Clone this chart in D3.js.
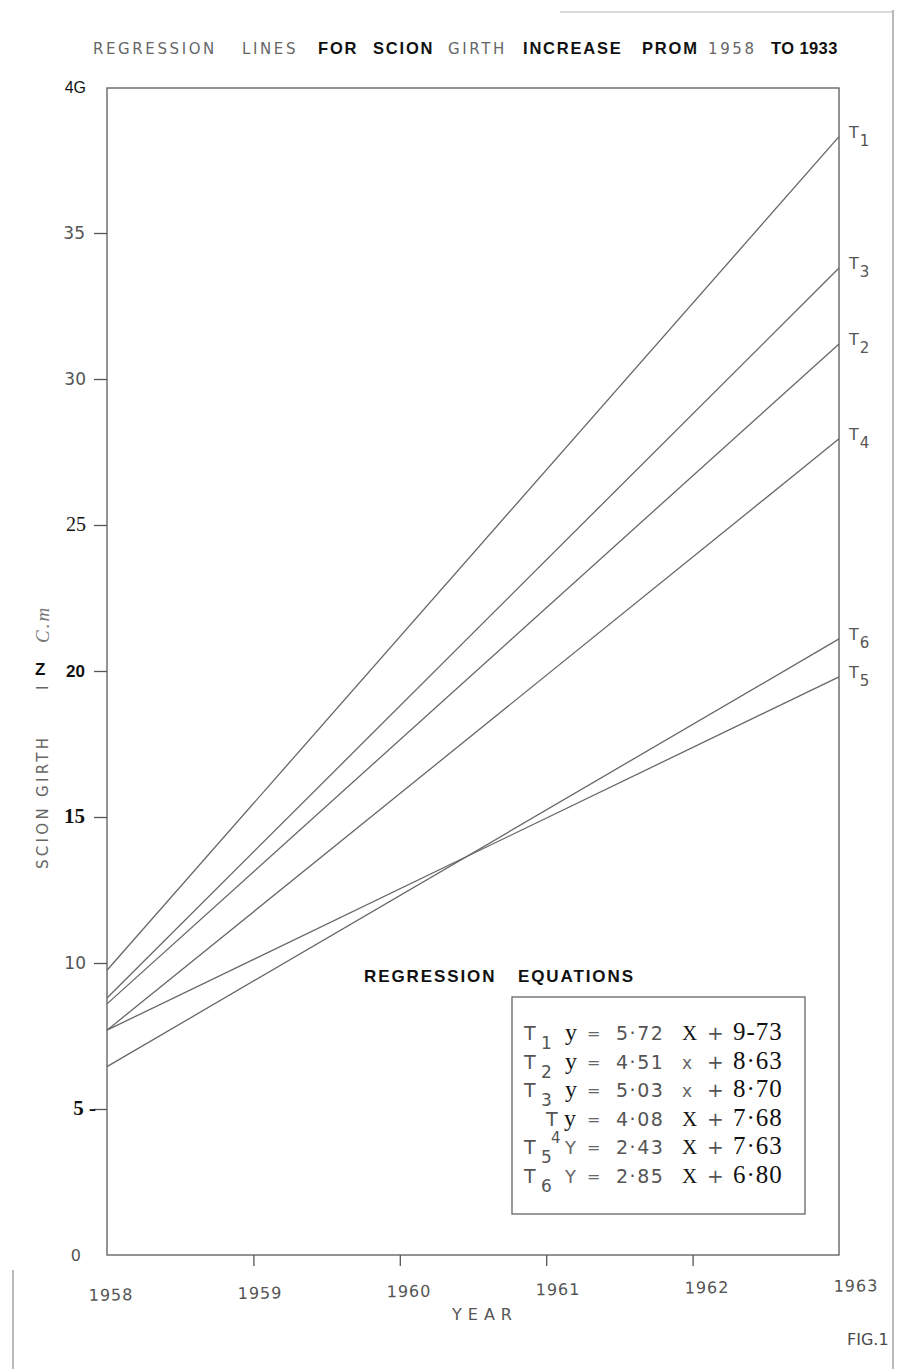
<!DOCTYPE html>
<html>
<head>
<meta charset="utf-8">
<script src="https://cdn.jsdelivr.net/npm/d3@7/dist/d3.min.js"></script>
<style>
  html, body { margin: 0; padding: 0; background: #fff; }
  svg { display: block; }
</style>
</head>
<body>
<svg id="chart" width="899" height="1369"></svg>
<script>
// ---------------- data ----------------
const years = [1958, 1959, 1960, 1961, 1962, 1963];
const treatments = ["T1", "T2", "T3", "T4", "T5", "T6"];
const girthStart = [9.75, 8.6, 8.8, 7.7, 7.7, 6.45];   // scion girth at 1958 (cm)
const girthEnd = [38.3, 31.2, 33.8, 27.95, 19.8, 21.1]; // scion girth at 1963 (cm)
const slopeLabels = ["5·72", "4·51", "5·03", "4·08", "2·43", "2·85"];
const interceptLabels = ["9-73", "8·63", "8·70", "7·68", "7·63", "6·80"];
const yTicks = [0, 5, 10, 15, 20, 25, 30, 35, 40];
const yTickLabels = ["0", "5 -", "10", "15", "20", "25", "30", "35", "4G"];
const xTickLabels = ["1958", "1959", "1960", "1961", "1962", "1963"];

// ---------------- setup ----------------
const svg = d3.select("#chart");
const hand = "'DejaVu Sans', sans-serif";
const bold = "'Liberation Sans', Arial, sans-serif";
const serif = "'Liberation Serif', 'Times New Roman', serif";

const x = d3.scaleLinear().domain([1958, 1963]).range([107, 839]);
const y = d3.scaleLinear().domain([0, 40]).range([1255, 87]);

// page border
const border = svg.append("g").attr("stroke", "#8a8a8a").attr("stroke-width", 1.2).attr("fill", "none");
border.append("line").attr("x1", 893).attr("x2", 893).attr("y1", 10).attr("y2", 1369);
border.append("line").attr("x1", 560).attr("x2", 893).attr("y1", 12).attr("y2", 12).attr("stroke", "#b5b5b5");
border.append("line").attr("x1", 13).attr("x2", 13).attr("y1", 1270).attr("y2", 1369);

// title
const title = svg.append("text").attr("y", 54);
const titleParts = [
  { t: "REGRESSION", x: 93, s: "hand" },
  { t: "LINES", x: 242, s: "hand" },
  { t: "FOR", x: 318, s: "bold" },
  { t: "SCION", x: 373, s: "bold" },
  { t: "GIRTH", x: 448, s: "hand" },
  { t: "INCREASE", x: 523, s: "bold" },
  { t: "PROM", x: 642, s: "bold" },
  { t: "1958", x: 708, s: "hand" },
  { t: "TO 1933", x: 771, s: "bold" }
];
titleParts.forEach(p => {
  const ts = title.append("tspan").attr("x", p.x).text(p.t);
  if (p.s === "hand") {
    ts.attr("font-family", hand).attr("fill", "#666").attr("font-size", 15).attr("letter-spacing", 2.6);
  } else {
    ts.attr("font-family", bold).attr("font-weight", "bold").attr("fill", "#111").attr("font-size", 16.5)
      .attr("letter-spacing", p.t === "TO 1933" ? 0.4 : 1.8);
  }
});

// frame
svg.append("rect")
  .attr("x", x(1958)).attr("y", y(40) + 1)
  .attr("width", x(1963) - x(1958)).attr("height", y(0) - y(40) - 1)
  .attr("fill", "none").attr("stroke", "#666").attr("stroke-width", 1.4);

// y axis ticks
const yAxis = d3.axisLeft(y).tickValues(yTicks.filter(v => v > 0 && v < 40)).tickSize(13).tickFormat("");
const yg = svg.append("g").attr("transform", `translate(${x(1958)},0)`).call(yAxis);
yg.select(".domain").remove();
yg.selectAll(".tick line").attr("stroke", "#555").attr("stroke-width", 1.3);

// y tick labels (mixed lettering as in the original)
const yLabelStyle = {
  "0": { f: hand, w: "normal", c: "#555", s: 16, x: 81 },
  "5 -": { f: serif, w: "bold", c: "#111", s: 21, x: 96 },
  "10": { f: hand, w: "normal", c: "#555", s: 17, x: 86 },
  "15": { f: serif, w: "bold", c: "#111", s: 21, x: 85 },
  "20": { f: bold, w: "bold", c: "#111", s: 17, x: 85 },
  "25": { f: serif, w: "normal", c: "#111", s: 20, x: 86 },
  "30": { f: hand, w: "normal", c: "#555", s: 17, x: 86 },
  "35": { f: hand, w: "normal", c: "#555", s: 17, x: 85 },
  "4G": { f: bold, w: "normal", c: "#111", s: 16, x: 86 }
};
svg.append("g").selectAll("text").data(yTicks).join("text")
  .attr("text-anchor", "end")
  .each(function (d, i) {
    const st = yLabelStyle[yTickLabels[i]];
    d3.select(this).attr("x", st.x).attr("y", y(d) + 6)
      .attr("font-family", st.f).attr("font-weight", st.w)
      .attr("fill", st.c).attr("font-size", st.s).text(yTickLabels[i]);
  });

// y title
svg.append("text")
  .attr("transform", `translate(48,869) rotate(-90)`)
  .attr("font-family", hand).attr("font-size", 15).attr("fill", "#666")
  .attr("letter-spacing", 3.3)
  .text("SCION GIRTH");
svg.append("text")
  .attr("transform", `translate(48,690) rotate(-90)`)
  .attr("font-family", hand).attr("font-size", 15).attr("fill", "#666")
  .text("I");
svg.append("text")
  .attr("x", 35).attr("y", 675)
  .attr("font-family", bold).attr("font-weight", "bold").attr("font-size", 17).attr("fill", "#111")
  .text("Z");
svg.append("text")
  .attr("transform", `translate(49,643) rotate(-90)`)
  .attr("font-family", serif).attr("font-style", "italic").attr("font-size", 19).attr("fill", "#777")
  .attr("letter-spacing", 2)
  .text("C.m");

// x axis ticks
const xAxis = d3.axisBottom(x).tickValues(years.slice(1, 5)).tickSize(11).tickFormat("");
const xg = svg.append("g").attr("transform", `translate(0,${y(0)})`).call(xAxis);
xg.select(".domain").remove();
xg.selectAll(".tick line").attr("stroke", "#555").attr("stroke-width", 1.3);

// x tick labels (hand lettered, slightly tilted baseline)
svg.append("g")
  .attr("transform", "rotate(-0.7, 480, 1290)")
  .selectAll("text").data(years).join("text")
  .attr("x", (d, i) => x(d) + 4 + i * 2.6)
  .attr("y", 1296)
  .attr("text-anchor", "middle")
  .attr("font-family", hand).attr("font-size", 16).attr("fill", "#555")
  .attr("letter-spacing", 1)
  .text((d, i) => xTickLabels[i]);

svg.append("text").attr("x", 485).attr("y", 1320).attr("text-anchor", "middle")
  .attr("font-family", hand).attr("font-size", 16).attr("fill", "#555").attr("letter-spacing", 6)
  .text("YEAR");

svg.append("text").attr("x", 847).attr("y", 1345)
  .attr("font-family", hand).attr("font-size", 16).attr("fill", "#4a4a4a")
  .text("FIG.1");

// regression lines
const lineGen = d3.line().x(d => x(d[0])).y(d => y(d[1]));
svg.append("g").selectAll("path").data(treatments).join("path")
  .attr("d", (d, i) => lineGen([[1958, girthStart[i]], [1963, girthEnd[i]]]))
  .attr("fill", "none").attr("stroke", "#676767").attr("stroke-width", 1.3);

// right-hand labels
const rl = svg.append("g").selectAll("text").data(treatments).join("text")
  .attr("x", 849)
  .attr("y", (d, i) => y(girthEnd[i]) + 1)
  .attr("font-family", hand).attr("font-size", 16).attr("fill", "#555");
rl.append("tspan").text("T");
rl.append("tspan").attr("dy", 8).attr("dx", 1).attr("font-size", 15).text(d => d.slice(1));

// equations heading
const eqHead = svg.append("text").attr("y", 982)
  .attr("font-family", bold).attr("font-weight", "bold").attr("font-size", 17).attr("fill", "#111")
  .attr("letter-spacing", 1.9);
eqHead.append("tspan").attr("x", 364).text("REGRESSION");
eqHead.append("tspan").attr("x", 518).text("EQUATIONS");

// equation box
svg.append("rect").attr("x", 512).attr("y", 997).attr("width", 293).attr("height", 217)
  .attr("fill", "none").attr("stroke", "#666").attr("stroke-width", 1.3);

const eq = svg.append("g").selectAll("g").data(treatments).join("g")
  .attr("transform", (d, i) => `translate(0,${1040 + i * 28.6})`);
eq.each(function (d, i) {
  const g = d3.select(this);
  const shifted = d === "T4";
  g.append("text").attr("x", shifted ? 546 : 524).attr("y", 0)
    .attr("font-family", hand).attr("font-size", 19).attr("fill", "#555").text("T");
  g.append("text").attr("x", shifted ? 551 : 541).attr("y", shifted ? 17 : 9)
    .attr("font-family", hand).attr("font-size", shifted ? 15 : 17).attr("fill", "#555").text(d.slice(1));
  const yIsSerif = i < 4;
  g.append("text").attr("x", shifted ? 564 : 565).attr("y", 0)
    .attr("font-family", yIsSerif ? serif : hand).attr("font-size", yIsSerif ? 24 : 18)
    .attr("fill", yIsSerif ? "#111" : "#666").text(yIsSerif ? "y" : "Y");
  g.append("text").attr("x", 587).attr("y", -1)
    .attr("font-family", hand).attr("font-size", 16).attr("fill", "#666").text("=");
  g.append("text").attr("x", 616).attr("y", 0)
    .attr("font-family", hand).attr("font-size", 19).attr("fill", "#555").attr("letter-spacing", 1.5)
    .text(slopeLabels[i]);
  const xSerif = [0, 3, 4, 5].includes(i);
  g.append("text").attr("x", 682).attr("y", 0)
    .attr("font-family", xSerif ? serif : hand).attr("font-size", xSerif ? 21 : 17)
    .attr("fill", xSerif ? "#111" : "#666").text(xSerif ? "X" : "x");
  g.append("text").attr("x", 707).attr("y", 0)
    .attr("font-family", hand).attr("font-size", 20).attr("fill", "#555").text("+");
  g.append("text").attr("x", 733).attr("y", 0)
    .attr("font-family", serif).attr("font-size", 25).attr("fill", "#111").attr("letter-spacing", 1)
    .text(interceptLabels[i]);
});
</script>
</body>
</html>
